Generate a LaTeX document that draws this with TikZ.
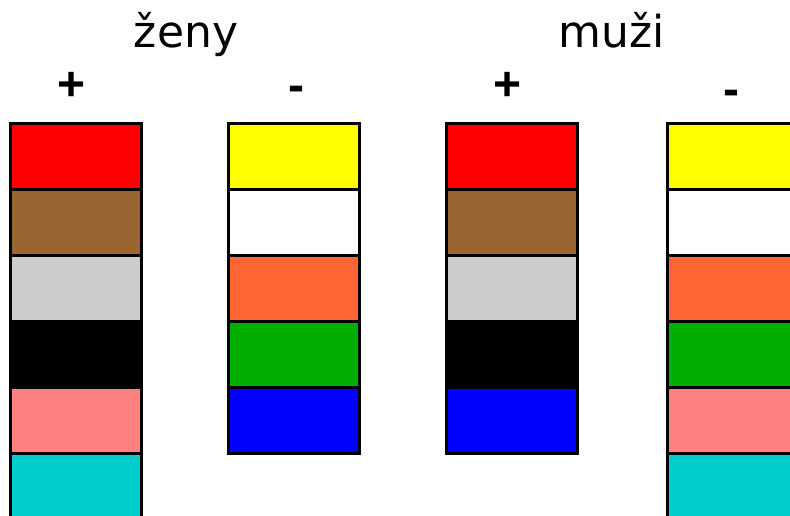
\documentclass[tikz,border=0pt]{standalone}
\usepackage{fontspec}
\setmainfont{DejaVu Sans}
\newfontfamily\signfont{Liberation Sans}
\definecolor{cred}{HTML}{FF0000}
\definecolor{cbrown}{HTML}{996633}
\definecolor{cgray}{HTML}{CCCCCC}
\definecolor{cblack}{HTML}{000000}
\definecolor{cpink}{HTML}{FF8080}
\definecolor{ccyan}{HTML}{00CCCC}
\definecolor{cyellow}{HTML}{FFFF00}
\definecolor{cwhite}{HTML}{FFFFFF}
\definecolor{corange}{HTML}{FF6633}
\definecolor{cgreen}{HTML}{00AE00}
\definecolor{cblue}{HTML}{0000FF}
\tikzset{
  cell/.style={draw=black, line width=3pt, rectangle, inner sep=0pt, outer sep=0pt,
    minimum width=131pt, minimum height=66pt},
  title/.style={font=\fontsize{44}{50}\selectfont, anchor=base, inner sep=0pt},
  sign/.style={font=\signfont\bfseries\fontsize{48}{54}\selectfont, anchor=base, inner sep=0pt}
}
\begin{document}
\begin{tikzpicture}[x=1pt,y=-1pt]
\useasboundingbox (0,0) rectangle (790,515);
\fill[white] (0,0) rectangle (790,515);
\clip (0,0) rectangle (790,515);
\node[title] (zeny) at (186,47) {ženy};
\node[title] (muzi) at (611.5,47) {muži};
\node[sign] (p1) at (72,100.5) {+};
\node[sign] (m1) at (296,101.5) {-};
\node[sign] (p2) at (507.5,100.5) {+};
\node[sign] (m2) at (731.5,105.5) {-};
% column 1: zeny +
\node[cell, fill=cred]   (a1) at (76,156.5) {};
\node[cell, fill=cbrown] (a2) at (76,222.5) {};
\node[cell, fill=cgray]  (a3) at (76,288.5) {};
\node[cell, fill=cblack] (a4) at (76,354.5) {};
\node[cell, fill=cpink]  (a5) at (76,420.5) {};
\node[cell, fill=ccyan]  (a6) at (76,486.5) {};
% column 2: zeny -
\node[cell, fill=cyellow] (b1) at (294,156.5) {};
\node[cell, fill=cwhite]  (b2) at (294,222.5) {};
\node[cell, fill=corange] (b3) at (294,288.5) {};
\node[cell, fill=cgreen]  (b4) at (294,354.5) {};
\node[cell, fill=cblue]   (b5) at (294,420.5) {};
% column 3: muzi +
\node[cell, fill=cred]   (c1) at (512,156.5) {};
\node[cell, fill=cbrown] (c2) at (512,222.5) {};
\node[cell, fill=cgray]  (c3) at (512,288.5) {};
\node[cell, fill=cblack] (c4) at (512,354.5) {};
\node[cell, fill=cblue]  (c5) at (512,420.5) {};
% column 4: muzi -
\node[cell, fill=cyellow] (d1) at (733,156.5) {};
\node[cell, fill=cwhite]  (d2) at (733,222.5) {};
\node[cell, fill=corange] (d3) at (733,288.5) {};
\node[cell, fill=cgreen]  (d4) at (733,354.5) {};
\node[cell, fill=cpink]   (d5) at (733,420.5) {};
\node[cell, fill=ccyan]   (d6) at (733,486.5) {};
\end{tikzpicture}
\end{document}
